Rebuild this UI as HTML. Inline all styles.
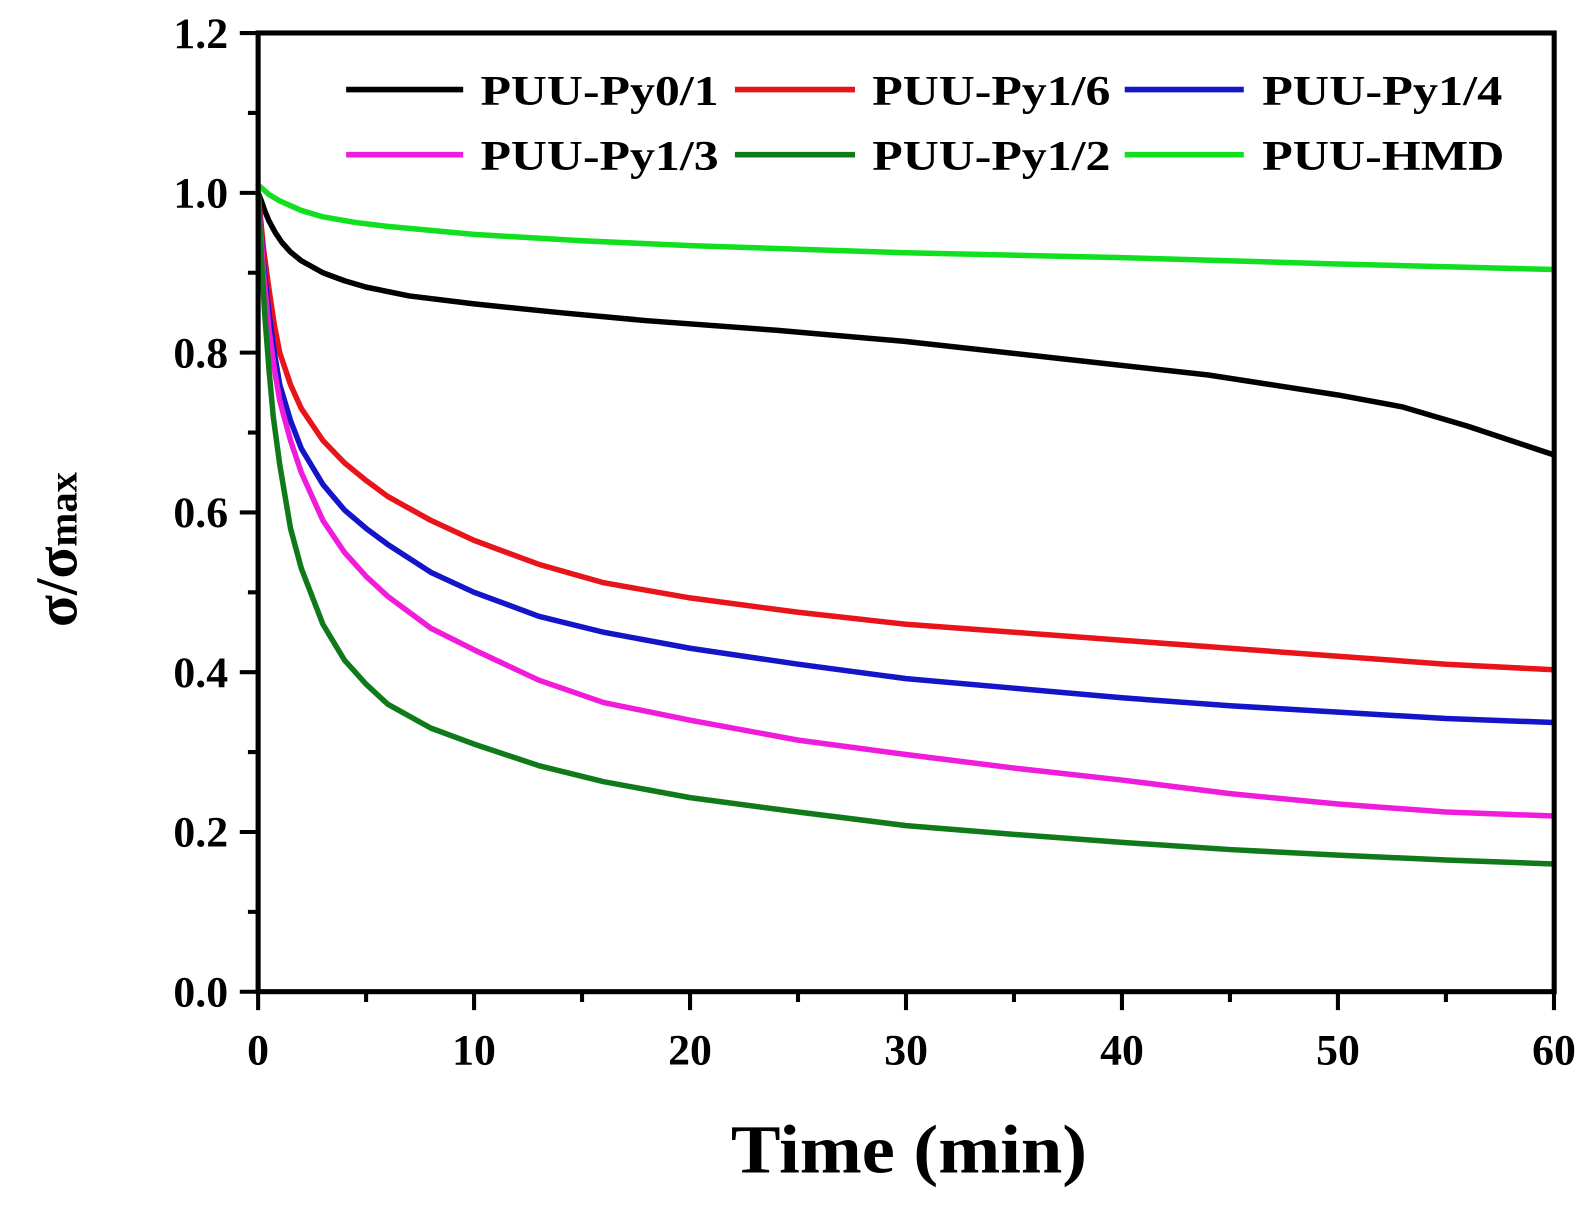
<!DOCTYPE html>
<html><head><meta charset="utf-8"><style>body{margin:0;background:#fff}svg{display:block}</style></head>
<body>
<svg width="1594" height="1206" viewBox="0 0 1566 1185" xmlns="http://www.w3.org/2000/svg" font-family="Liberation Serif, serif" font-weight="bold">
<rect width="1566" height="1185" fill="#fff"/>
<g stroke="#000" stroke-width="4">
<path d="M235.5 974.5H253.5M243.5 896H253.5M235.5 817.5H253.5M243.5 739H253.5M235.5 660.5H253.5M243.5 582H253.5M235.5 503.5H253.5M243.5 425H253.5M235.5 346.5H253.5M243.5 268H253.5M235.5 189.5H253.5M243.5 111H253.5M235.5 32.5H253.5"/>
<path d="M253.5 974.5V992.5M359.6 974.5V984.5M465.7 974.5V992.5M571.8 974.5V984.5M677.9 974.5V992.5M784 974.5V984.5M890.1 974.5V992.5M996.2 974.5V984.5M1102.3 974.5V992.5M1208.4 974.5V984.5M1314.5 974.5V992.5M1420.6 974.5V984.5M1526.8 974.5V992.5"/>
</g>
<g fill="none" stroke-width="5.5" stroke-linejoin="round" stroke-linecap="round" transform="translate(253.5,974.5) scale(21.22,-785)">
<polyline vector-effect="non-scaling-stroke" stroke="#10e020" points="0,1.01 0.5,0.998 1,0.99 2,0.978 3,0.97 4.5,0.963 6,0.958 8,0.953 10,0.948 15,0.94 20,0.934 30,0.925 40,0.919 50,0.911 60,0.904"/>
<polyline vector-effect="non-scaling-stroke" stroke="#000" points="0,1.0 0.15,0.99 0.3,0.978 0.5,0.965 0.8,0.95 1.1,0.938 1.5,0.926 2,0.915 3,0.9 4,0.89 5,0.882 7,0.871 10,0.861 14,0.85 18,0.84 24,0.828 30,0.814 37,0.793 44,0.772 50,0.747 53,0.732 56,0.708 58,0.69 60,0.672"/>
<polyline vector-effect="non-scaling-stroke" stroke="#e8141a" points="0,1.0 0.25,0.93 0.5,0.88 0.75,0.835 1,0.8 1.5,0.76 2,0.73 3,0.69 4,0.662 5,0.64 6,0.62 8,0.59 10,0.565 13,0.535 16,0.512 20,0.493 25,0.475 30,0.46 35,0.45 40,0.44 45,0.43 50,0.42 55,0.41 60,0.403"/>
<polyline vector-effect="non-scaling-stroke" stroke="#1414c8" points="0,1.0 0.25,0.91 0.5,0.85 0.75,0.8 1,0.76 1.5,0.715 2,0.68 3,0.635 4,0.603 5,0.58 6,0.56 8,0.525 10,0.5 13,0.47 16,0.45 20,0.43 25,0.41 30,0.392 35,0.38 40,0.368 45,0.358 50,0.35 55,0.342 60,0.337"/>
<polyline vector-effect="non-scaling-stroke" stroke="#f01cdc" points="0,1.0 0.25,0.9 0.5,0.83 0.75,0.78 1,0.74 1.5,0.69 2,0.65 3,0.59 4,0.55 5,0.52 6,0.495 8,0.455 10,0.428 13,0.39 16,0.362 20,0.34 25,0.315 30,0.297 35,0.28 40,0.265 45,0.248 50,0.235 55,0.225 60,0.22"/>
<polyline vector-effect="non-scaling-stroke" stroke="#107a1a" points="0,1.0 0.15,0.92 0.3,0.85 0.5,0.78 0.7,0.72 1,0.66 1.5,0.58 2,0.53 3,0.46 4,0.415 5,0.385 6,0.36 8,0.33 10,0.31 13,0.283 16,0.263 20,0.243 25,0.225 30,0.208 35,0.197 40,0.187 45,0.178 50,0.171 55,0.165 60,0.16"/>
</g>
<rect x="253.5" y="32.4" width="1273.5" height="942" fill="none" stroke="#000" stroke-width="5"/>
<g font-size="43" text-anchor="end">
<text x="224" y="47">1.2</text><text x="224" y="204">1.0</text><text x="224" y="361">0.8</text>
<text x="224" y="518">0.6</text><text x="224" y="675">0.4</text><text x="224" y="832">0.2</text><text x="224" y="989">0.0</text>
</g>
<g font-size="43" text-anchor="middle">
<text x="253.5" y="1046">0</text><text x="465.7" y="1046">10</text><text x="677.9" y="1046">20</text>
<text x="890.2" y="1046">30</text><text x="1102.4" y="1046">40</text><text x="1314.6" y="1046">50</text><text x="1526.8" y="1046">60</text>
</g>
<text x="718" y="1152" font-size="68" textLength="350" lengthAdjust="spacingAndGlyphs">Time (min)</text>
<text transform="translate(75,540) rotate(-90)" font-size="58" text-anchor="middle">σ/σ<tspan font-size="40">max</tspan></text>
<g stroke-width="5.5">
<line x1="340" y1="88" x2="455" y2="88" stroke="#000"/>
<line x1="722" y1="88" x2="840" y2="88" stroke="#e8141a"/>
<line x1="1105" y1="88" x2="1222" y2="88" stroke="#1414c8"/>
<line x1="340" y1="152" x2="455" y2="152" stroke="#f01cdc"/>
<line x1="722" y1="152" x2="840" y2="152" stroke="#107a1a"/>
<line x1="1105" y1="152" x2="1222" y2="152" stroke="#10e020"/>
</g>
<g font-size="42">
<text x="472" y="103" textLength="234" lengthAdjust="spacingAndGlyphs">PUU-Py0/1</text>
<text x="857" y="103" textLength="234" lengthAdjust="spacingAndGlyphs">PUU-Py1/6</text>
<text x="1240" y="103" textLength="236" lengthAdjust="spacingAndGlyphs">PUU-Py1/4</text>
<text x="472" y="167" textLength="234" lengthAdjust="spacingAndGlyphs">PUU-Py1/3</text>
<text x="857" y="167" textLength="234" lengthAdjust="spacingAndGlyphs">PUU-Py1/2</text>
<text x="1240" y="167" textLength="238" lengthAdjust="spacingAndGlyphs">PUU-HMD</text>
</g>
</svg>
</body></html>
